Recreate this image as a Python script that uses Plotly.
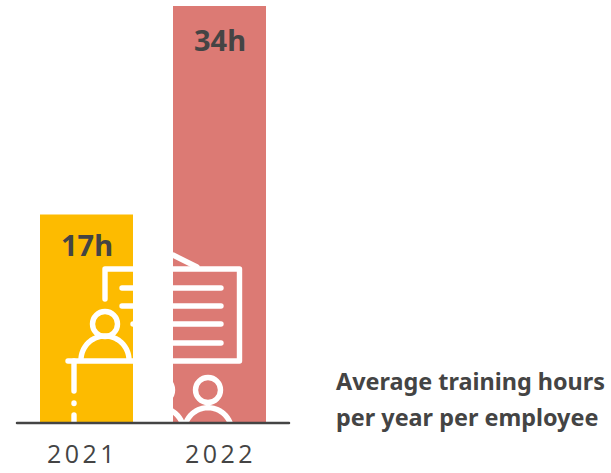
import math
import plotly.graph_objects as go

years = ["2021", "2022"]
hours = [17, 34]
bar_labels = ["17h", "34h"]
bar_colors = ["#FDBB00", "#DC7A74"]
caption_lines = ["Average training hours", "per year per employee"]

DARK = "#444444"
W, H = 611, 473
L, R, B = 16, 290, 423
px_per_hour = (B - 6) / 34
pitch = 133
STROKE = 5.4

def X(p):
    return (p - L) / (R - L)

def Y(p):
    return (B - p) / B

def line(pts, color="white", width=STROKE):
    d = "M" + " L".join(f"{X(a):.5f},{Y(b):.5f}" for a, b in pts)
    return dict(type="path", path=d, xref="paper", yref="paper", layer="above",
                line=dict(color=color, width=width))

def circle(cx, cy, r):
    return dict(type="circle", xref="paper", yref="paper", layer="above",
                x0=X(cx - r), x1=X(cx + r), y0=Y(cy + r), y1=Y(cy - r),
                line=dict(color="white", width=STROKE), fillcolor="rgba(0,0,0,0)")

def arc(cx, cy, r, yend):
    a0 = math.asin(max(0.0, (cy - yend) / r))
    n = 40
    pts = []
    for i in range(n + 1):
        a = a0 + (math.pi - 2 * a0) * i / n
        pts.append((cx - r * math.cos(a), cy - r * math.sin(a)))
    return line(pts)

icon = [
    line([(105, 299), (105, 269), (239.5, 269), (239.5, 361), (68, 361)]),
    line([(173, 255), (197, 267)]),
    line([(122, 288), (221, 288)]),
    line([(122, 306), (221, 306)]),
    line([(133, 324), (221, 324)]),
    line([(173, 343), (221, 343)]),
    line([(74, 361), (74, 391)]),
    line([(74, 403), (74, 403.5)]),
    line([(74, 415), (74, 422)]),
    circle(105, 324, 12.5),
    arc(105, 360, 24, 360),
    circle(208, 390, 12.5),
    arc(208, 431.4, 23.7, 423),
    circle(160, 390, 12.5),
    arc(160, 431.4, 23.7, 423),
    line([(L + 1, B), (R - 1, B)], color=DARK, width=2.5),
]

fig = go.Figure(go.Bar(
    x=years, y=hours, width=93 / pitch,
    marker=dict(color=bar_colors, line=dict(width=0)),
    hoverinfo="skip",
))

annotations = [
    dict(x=i, y=v, xref="x", yref="y", text=f"<b>{lab}</b>", showarrow=False,
         yanchor="top", yshift=shift, xanchor="center",
         font=dict(family="Noto Sans", size=29, color=DARK))
    for i, (v, lab, shift) in enumerate(zip(hours, bar_labels, (-8, -12)))
]
for text, y_px in zip(caption_lines, (381, 416.5)):
    annotations.append(dict(x=X(334), y=Y(y_px), xref="paper", yref="paper",
                            text=f"<b>{text}</b>", showarrow=False,
                            xanchor="left", yanchor="middle",
                            font=dict(family="Noto Sans", size=23.4, color=DARK)))

fig.update_layout(
    width=W, height=H, autosize=False, showlegend=False,
    margin=dict(l=L, r=W - R, t=0, b=H - B, pad=0),
    paper_bgcolor="white", plot_bgcolor="white",
    xaxis=dict(type="category", range=[-(86.5 - L) / pitch, (R - 86.5) / pitch],
               showgrid=False, showline=False, zeroline=False,
               ticks="outside", ticklen=9, tickcolor="rgba(0,0,0,0)",
               tickfont=dict(family="Open Sans", size=25, color=DARK)),
    yaxis=dict(range=[0, B / px_per_hour], showgrid=False, zeroline=False,
               showline=False, showticklabels=False, ticks=""),
    shapes=icon, annotations=annotations,
)

post = """
document.body.style.margin='0';
document.querySelectorAll('.shapelayer path').forEach(function(p){
  p.style.strokeLinecap='round'; p.style.strokeLinejoin='round';
});
document.querySelectorAll('.xtick text').forEach(function(t,i){
  t.style.letterSpacing='3.5px';
  t.setAttribute('dx', i===0 ? '-4' : '1');
});
"""
fig.write_html("out.html", post_script=post, config=dict(displayModeBar=False))
